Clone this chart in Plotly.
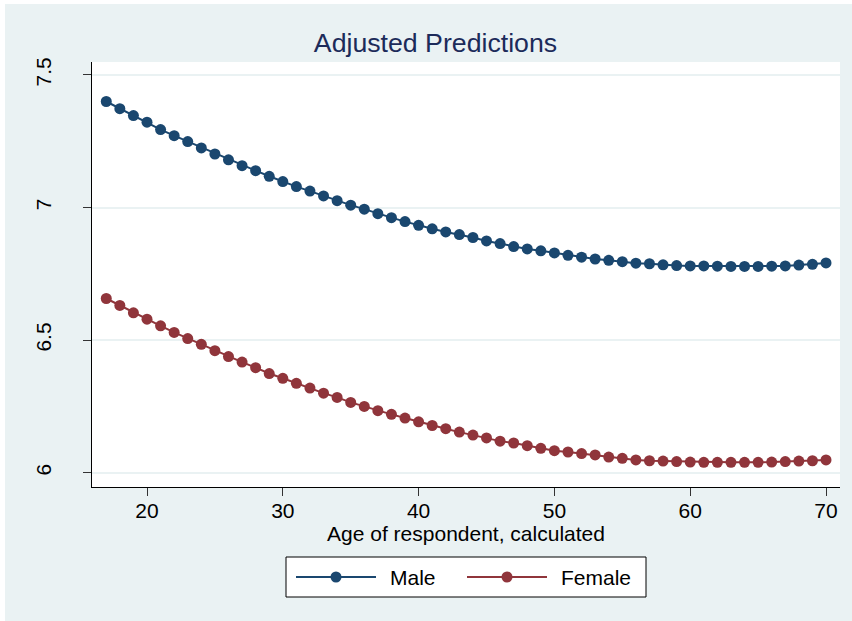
import plotly.graph_objects as go

# ---- data -------------------------------------------------------------
ages = list(range(17, 71))

male = [
    7.400, 7.373, 7.347, 7.322, 7.294, 7.271, 7.249, 7.225, 7.202, 7.180,
    7.158, 7.139, 7.118, 7.098, 7.079, 7.062, 7.044, 7.026, 7.009, 6.994,
    6.977, 6.962, 6.947, 6.933, 6.920, 6.908, 6.898, 6.887, 6.874, 6.864,
    6.853, 6.844, 6.837, 6.829, 6.820, 6.813, 6.806, 6.801, 6.796, 6.790,
    6.788, 6.784, 6.781, 6.780, 6.780, 6.779, 6.778, 6.778, 6.778, 6.779,
    6.780, 6.783, 6.786, 6.791,
]

female = [
    6.657, 6.631, 6.603, 6.579, 6.554, 6.529, 6.506, 6.484, 6.460, 6.438,
    6.417, 6.396, 6.374, 6.356, 6.337, 6.319, 6.300, 6.284, 6.265, 6.250,
    6.234, 6.220, 6.206, 6.192, 6.178, 6.166, 6.153, 6.142, 6.131, 6.119,
    6.112, 6.102, 6.092, 6.083, 6.078, 6.072, 6.067, 6.059, 6.054, 6.048,
    6.045, 6.044, 6.042, 6.040, 6.039, 6.039, 6.039, 6.039, 6.039, 6.040,
    6.042, 6.044, 6.045, 6.048,
]

series_names = ["Male", "Female"]
series_values = [male, female]
series_colors = ["#1A476F", "#90353B"]

title_text = "Adjusted Predictions"
x_title = "Age of respondent, calculated"
x_tick_vals = [20, 30, 40, 50, 60, 70]
y_tick_vals = [6, 6.5, 7, 7.5]
y_tick_text = ["6", "6.5", "7", "7.5"]

# ---- styling / geometry ----------------------------------------------
W, H = 852, 621
L, R, T, B = 92, 12, 62, 134
PW, PH = W - L - R, H - T - B
BG = "#EAF2F3"
FONT = "Liberation Sans, Arial, sans-serif"


def paper_x(p):
    return (p - L) / PW


def paper_y(p):
    return (T + PH - p) / PH


fig = go.Figure()

for name, vals, col in zip(series_names, series_values, series_colors):
    fig.add_trace(go.Scatter(
        x=ages, y=vals, name=name, mode="lines+markers",
        line=dict(color=col, width=2),
        marker=dict(color=col, size=11, line=dict(width=0)),
        showlegend=False,
    ))

shapes = []
annotations = []

# thin white border around the graph background
shapes.append(dict(type="rect", xref="paper", yref="paper",
                   x0=paper_x(0), x1=paper_x(W), y0=paper_y(0), y1=paper_y(4),
                   line=dict(width=0), fillcolor="white", layer="below"))
shapes.append(dict(type="rect", xref="paper", yref="paper",
                   x0=paper_x(0), x1=paper_x(5), y0=paper_y(0), y1=paper_y(H),
                   line=dict(width=0), fillcolor="white", layer="below"))

# legend box with long line keys
leg_x0, leg_x1, leg_y0, leg_y1 = 286, 646, 557, 597
leg_cy = (leg_y0 + leg_y1) / 2
shapes.append(dict(type="rect", xref="paper", yref="paper",
                   x0=paper_x(leg_x0), x1=paper_x(leg_x1),
                   y0=paper_y(leg_y1), y1=paper_y(leg_y0),
                   line=dict(color="black", width=1), fillcolor="white",
                   layer="above"))
item_start = [296, 467]
for name, col, sx in zip(series_names, series_colors, item_start):
    shapes.append(dict(type="line", xref="paper", yref="paper",
                       x0=paper_x(sx), x1=paper_x(sx + 80),
                       y0=paper_y(leg_cy), y1=paper_y(leg_cy),
                       line=dict(color=col, width=2), layer="above"))
    shapes.append(dict(type="circle", xref="paper", yref="paper",
                       xsizemode="pixel", ysizemode="pixel",
                       xanchor=paper_x(sx + 40), yanchor=paper_y(leg_cy),
                       x0=-5.5, x1=5.5, y0=-5.5, y1=5.5,
                       line=dict(width=0), fillcolor=col, layer="above"))
    annotations.append(dict(text=name, xref="paper", yref="paper",
                            x=paper_x(sx + 92), y=paper_y(leg_cy),
                            xanchor="left", yanchor="middle", showarrow=False,
                            font=dict(family=FONT, size=21, color="black")))

axis_common = dict(
    showline=True, linecolor="black", linewidth=1, mirror=False,
    ticks="outside", ticklen=8, tickwidth=1, tickcolor="#333333",
    tickfont=dict(family=FONT, size=21, color="black"),
    zeroline=False,
)

fig.update_layout(
    width=W, height=H,
    margin=dict(l=L, r=R, t=T, b=B, autoexpand=False),
    paper_bgcolor=BG, plot_bgcolor="white",
    title=dict(text=title_text, x=435.5 / W, xref="container", xanchor="center",
               y=1 - 43 / H, yref="container", yanchor="middle",
               font=dict(family=FONT, size=26.7, color="#1C2B5A")),
    xaxis=dict(range=[15.95, 71.03], tickvals=x_tick_vals, showgrid=False,
               ticklabelstandoff=-3,
               title=dict(text=x_title, standoff=0,
                          font=dict(family=FONT, size=21, color="black")),
               **axis_common),
    yaxis=dict(range=[5.946, 7.549], tickvals=y_tick_vals, ticktext=y_tick_text,
               tickangle=-90, showgrid=True, gridcolor=BG, gridwidth=1.5,
               ticklabelstandoff=24, **axis_common),
    shapes=shapes, annotations=annotations,
    showlegend=False,
)

fig.write_html("out.html")
